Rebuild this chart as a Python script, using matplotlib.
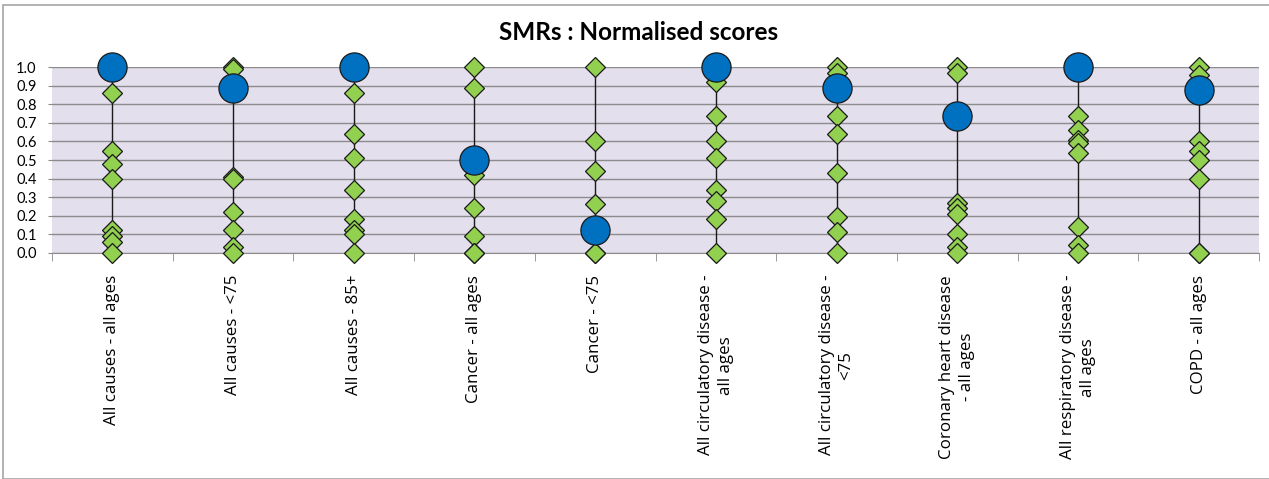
import numpy as np
import matplotlib
matplotlib.use("Agg")
import matplotlib.pyplot as plt
from matplotlib.patches import Rectangle

categories = [
    "All causes - all ages",
    "All causes - <75",
    "All causes - 85+",
    "Cancer - all ages",
    "Cancer - <75",
    "All circulatory disease -\nall ages",
    "All circulatory disease -\n<75",
    "Coronary heart disease\n- all ages",
    "All respiratory disease -\nall ages",
    "COPD - all ages",
]

# highlighted area (blue circle)
highlight = [1.0, 0.89, 1.0, 0.50, 0.12, 1.0, 0.89, 0.74, 1.0, 0.88]

# comparator areas (green diamonds)
others = [
    [0.86, 0.55, 0.48, 0.40, 0.12, 0.09, 0.06, 0.0],
    [1.0, 0.99, 0.41, 0.40, 0.22, 0.12, 0.03, 0.0],
    [0.86, 0.64, 0.51, 0.34, 0.18, 0.12, 0.10, 0.0],
    [1.0, 0.89, 0.47, 0.42, 0.24, 0.09, 0.0, 0.0],
    [1.0, 0.60, 0.44, 0.26, 0.14, 0.11, 0.0, 0.0],
    [0.92, 0.74, 0.60, 0.51, 0.34, 0.28, 0.18, 0.0],
    [1.0, 0.97, 0.74, 0.64, 0.43, 0.19, 0.11, 0.0],
    [1.0, 0.97, 0.27, 0.24, 0.21, 0.10, 0.03, 0.0],
    [0.74, 0.66, 0.61, 0.59, 0.54, 0.14, 0.04, 0.0],
    [1.0, 0.96, 0.60, 0.55, 0.50, 0.40, 0.0, 0.0],
]
yticks = [0.0, 0.1, 0.2, 0.3, 0.4, 0.5, 0.6, 0.7, 0.8, 0.9, 1.0]

plt.rcParams['font.family'] = ['Open Sans', 'DejaVu Sans']

fig = plt.figure(figsize=(12.69, 4.79), dpi=100)
ax = fig.add_axes([52 / 1269, 1 - 252.7 / 479, (1259 - 52) / 1269, (252.7 - 67.3) / 479])

# outer chart border
fig.patches.append(Rectangle((3 / 1269, 0), 1.0, 1 - 5 / 479, transform=fig.transFigure,
                             fill=False, edgecolor='#a6a6a6', linewidth=1.2))

ax.set_facecolor('#e4dfec')
x = np.arange(len(categories))

# high-low lines
lo = [min(min(o), h) for o, h in zip(others, highlight)]
hi = [max(max(o), h) for o, h in zip(others, highlight)]
ax.vlines(x, lo, hi, color='#1a1a1a', linewidth=1.0, zorder=2)

for i, vals in enumerate(others):
    ax.plot([x[i]] * len(vals), vals, linestyle='none', marker='D', markersize=10.5,
            markerfacecolor='#92d050', markeredgecolor='#1a1a1a', markeredgewidth=0.9,
            zorder=3, clip_on=False)

ax.plot(x, highlight, linestyle='none', marker='o', markersize=21,
        markerfacecolor='#0070c0', markeredgecolor='#1a1a1a', markeredgewidth=0.9,
        zorder=4, clip_on=False)

ax.set_xlim(-0.5, len(categories) - 0.5)
ax.set_ylim(0, 1)
ax.set_yticks(yticks)
ax.set_yticklabels([f"{v:.1f}" for v in yticks], fontsize=10.5, family=['Lato', 'DejaVu Sans'])
ax.yaxis.grid(True, color='#8c8c8c', linewidth=1.0)
ax.set_axisbelow(True)
ax.tick_params(axis='y', length=3, color='#8c8c8c', pad=8)

ax.set_xticks(x)
ax.set_xticklabels(categories, rotation=90, fontsize=12.2, ha='center', va='top',
                   multialignment='center', linespacing=1.3)
ax.set_xticks(np.arange(-0.5, len(categories)), minor=True)
ax.tick_params(axis='x', which='major', length=0, pad=16)
ax.tick_params(axis='x', which='minor', length=6, color='#8c8c8c')

for s in ['top', 'right', 'left']:
    ax.spines[s].set_visible(False)
ax.spines['bottom'].set_color('#8c8c8c')

fig.text(0.503, 1 - 33 / 479, "SMRs : Normalised scores", ha='center', va='center',
         fontsize=17.5, fontweight='bold', family=['Lato', 'DejaVu Sans'])

fig.savefig("out.png", dpi=100)
